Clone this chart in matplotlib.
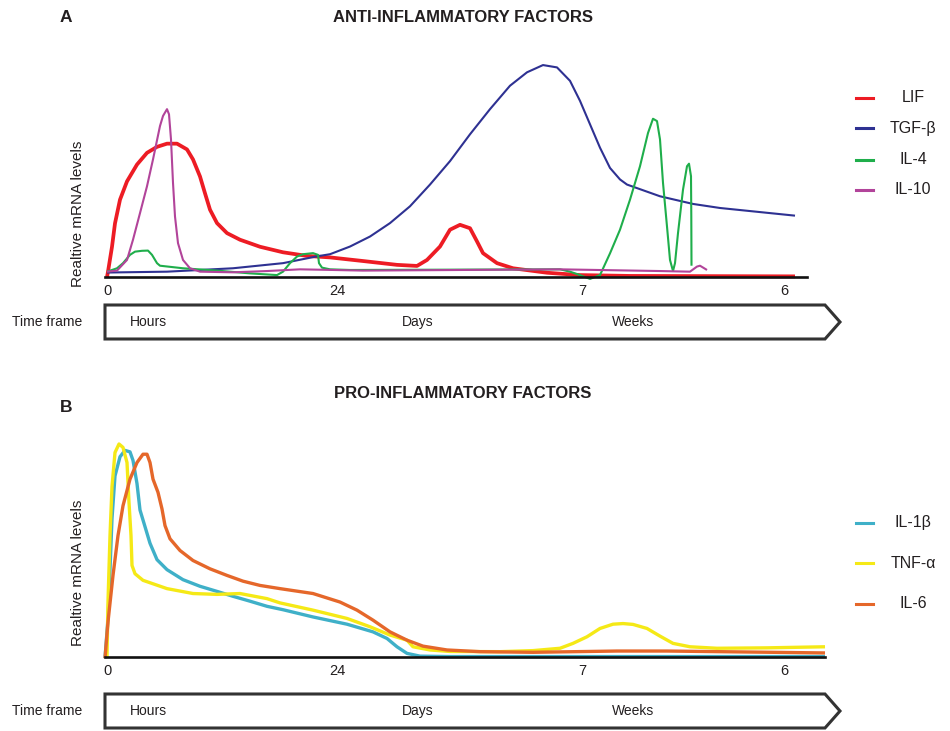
import matplotlib
matplotlib.use('Agg')
from matplotlib import pyplot as plt
from matplotlib.patches import Polygon

plt.rcParams['font.family'] = ['Liberation Sans', 'DejaVu Sans']

# ---- data (x: time position along the axis, y: relative mRNA level) ----
tick_pos = [0, 230, 475, 677]
tick_labels = ['0', '24', '7', '6']

lif_x = [0, 1, 5, 8, 13, 20, 30, 40, 50, 60, 70, 80, 86, 93, 98, 103, 110, 120, 133, 153, 176, 200, 223,
         256, 290, 310, 320, 333, 343, 353, 363, 370, 376, 390, 406, 440, 473, 523, 688]
lif_y = [0.0, 0.025, 0.142, 0.252, 0.363, 0.449, 0.528, 0.583, 0.611, 0.626, 0.626, 0.599, 0.552, 0.472, 0.393,
         0.316, 0.253, 0.206, 0.175, 0.142, 0.116, 0.099, 0.092,
         0.075, 0.057, 0.052, 0.080, 0.143, 0.222, 0.245, 0.229, 0.167, 0.112, 0.065, 0.041, 0.020, 0.009, 0.005, 0.003]

tgf_x = [0, 60, 126, 176, 210, 223, 243, 263, 283, 303, 323, 343, 363, 383, 403, 420, 436, 450, 463, 473, 483,
         493, 503, 513, 520, 553, 586, 613, 688]
tgf_y = [0.021, 0.025, 0.041, 0.065, 0.097, 0.107, 0.143, 0.190, 0.253, 0.332, 0.434, 0.544, 0.670, 0.788, 0.898,
         0.961, 0.995, 0.984, 0.921, 0.827, 0.717, 0.607, 0.512, 0.458, 0.434, 0.379, 0.343, 0.324, 0.288]

il4_x = [0, 10, 16, 23, 28, 35, 41, 45, 50, 53, 76, 110, 143, 170, 176, 183, 190, 196, 206, 211, 212, 215, 223,
         243, 453, 463, 473, 483, 493, 503, 513, 523, 533, 541, 546, 550, 553, 556, 560, 563, 566, 568, 571, 576,
         580, 582, 584, 584.3, 584.5]
il4_y = [0.025, 0.041, 0.065, 0.104, 0.119, 0.123, 0.124, 0.104, 0.065, 0.053, 0.041, 0.030, 0.017, 0.009, 0.025,
         0.065, 0.096, 0.107, 0.112, 0.104, 0.065, 0.044, 0.036,
         0.033, 0.036, 0.025, 0.009, -0.009, 0.009, 0.111, 0.222, 0.363, 0.520, 0.676, 0.743, 0.732, 0.646, 0.442,
         0.237, 0.080, 0.028, 0.065, 0.206, 0.410, 0.520, 0.532, 0.473, 0.284, 0.053]

il10_x = [0, 10, 20, 26, 33, 40, 46, 53, 56, 60, 62, 64, 66, 68, 71, 76, 83, 93, 126, 160, 193, 226, 256, 453,
          553, 583, 590, 593, 600]
il10_y = [0.025, 0.030, 0.080, 0.175, 0.300, 0.426, 0.552, 0.709, 0.756, 0.788, 0.764, 0.646, 0.442, 0.284,
          0.159, 0.080, 0.041, 0.025, 0.022, 0.028, 0.036, 0.033, 0.030, 0.036, 0.028, 0.025, 0.049, 0.053, 0.033]

il1b_x = [-2, 1, 3, 5, 8, 13, 18, 23, 26, 30, 33, 38, 43, 50, 60, 76, 93, 110, 126, 143, 160, 176, 206, 240,
          266, 280, 290, 300, 313, 343, 718]
il1b_y = [-0.005, 0.18, 0.41, 0.65, 0.85, 0.94, 0.97, 0.963, 0.923, 0.814, 0.69, 0.612, 0.534, 0.457, 0.41,
          0.363, 0.332, 0.308, 0.285, 0.262, 0.238, 0.222, 0.188, 0.154, 0.118, 0.087, 0.048, 0.017, 0.004,
          0.002, 0.002]

tnf_x = [0, 1, 3, 5, 8, 12, 16, 20, 22, 24, 25, 28, 36, 60, 86, 110, 133, 160, 173, 206, 240, 263, 283, 300,
         306, 323, 343, 393, 426, 453, 466, 480, 493, 506, 516, 526, 540, 553, 566, 583, 610, 660, 718]
tnf_y = [0.0, 0.26, 0.57, 0.80, 0.96, 1.0, 0.984, 0.913, 0.726, 0.57, 0.43, 0.391, 0.36, 0.321, 0.298, 0.294,
         0.298, 0.274, 0.254, 0.220, 0.181, 0.142, 0.103, 0.079, 0.048, 0.033, 0.026, 0.025, 0.03, 0.041, 0.064,
         0.095, 0.134, 0.154, 0.157, 0.153, 0.134, 0.098, 0.064, 0.048, 0.041, 0.043, 0.048]

il6_x = [-2, 1, 6, 11, 16, 23, 30, 36, 40, 43, 46, 51, 55, 58, 63, 73, 86, 103, 120, 136, 153, 173, 206, 233,
         250, 266, 283, 300, 316, 340, 373, 426, 510, 560, 718]
il6_y = [-0.006, 0.165, 0.383, 0.57, 0.71, 0.835, 0.913, 0.952, 0.952, 0.913, 0.835, 0.773, 0.695, 0.617,
         0.555, 0.5, 0.453, 0.414, 0.383, 0.356, 0.336, 0.321, 0.298, 0.258, 0.22, 0.173, 0.118, 0.079, 0.051,
         0.033, 0.025, 0.022, 0.028, 0.028, 0.019]

anti = [('LIF', lif_x, lif_y, '#ed1c24', 2.7),
        ('TGF-β', tgf_x, tgf_y, '#2e3192', 1.5),
        ('IL-4', il4_x, il4_y, '#1fae4b', 1.5),
        ('IL-10', il10_x, il10_y, '#b2449a', 1.5)]
pro = [('IL-1β', il1b_x, il1b_y, '#3fb0c8', 2.4),
       ('TNF-α', tnf_x, tnf_y, '#f5e916', 2.4),
       ('IL-6', il6_x, il6_y, '#e5672a', 2.4)]

W, H = 950, 731
fig = plt.figure(figsize=(9.5, 7.31), dpi=100)

# overlay in pixel coordinates for decorations
ov = fig.add_axes([0, 0, 1, 1])
ov.set_xlim(0, W)
ov.set_ylim(H, 0)
ov.axis('off')

txt = '#231f20'


def panel(series, base_px, right_px, top_px, xmax, letter, title, title_y, letter_y, ylab_y, legend_y, box_top):
    ax = fig.add_axes([105 / W, (H - base_px) / H, (right_px - 105) / W, (base_px - top_px) / H])
    ax.set_xlim(-2, xmax)
    ax.set_ylim(0, (base_px - top_px) / 213)
    for name, x, y, c, lw in series:
        ax.plot(x, y, color=c, lw=lw, clip_on=False, solid_joinstyle='round', solid_capstyle='butt')
    for s in ['top', 'right', 'left']:
        ax.spines[s].set_visible(False)
    ax.spines['bottom'].set_linewidth(1.9)
    ax.spines['bottom'].set_color('#111111')
    ax.set_yticks([])
    ax.set_xticks(tick_pos)
    ax.set_xticklabels(tick_labels, fontsize=10.5, color=txt)
    ax.tick_params(axis='x', length=0, pad=5)
    ax.patch.set_alpha(0)

    ov.text(66, letter_y, letter, fontsize=12.5, fontweight='bold', ha='center', va='center', color=txt)
    ov.text(463, title_y, title, fontsize=12, fontweight='bold', ha='center', va='center', color=txt)
    ov.text(78, ylab_y, 'Realtive mRNA levels', rotation=90, fontsize=11, ha='center', va='center', color=txt)

    for i, (name, x, y, c, lw) in enumerate(series):
        yy = legend_y[i]
        ov.plot([856, 873], [yy, yy], color=c, lw=2.2)
        ov.text(913, yy, name, fontsize=11.5, ha='center', va='center', color=txt)

    # time frame arrow box
    bt, bb = box_top, box_top + 34
    poly = Polygon([(105, bt), (825, bt), (840, (bt + bb) / 2), (825, bb), (105, bb)],
                   closed=True, fill=False, edgecolor='#333333', lw=2.2, joinstyle='miter')
    ov.add_patch(poly)
    my = (bt + bb) / 2
    ov.text(12, my, 'Time frame', fontsize=10, ha='left', va='center', color=txt)
    ov.text(130, my, 'Hours', fontsize=10, ha='left', va='center', color=txt)
    ov.text(402, my, 'Days', fontsize=10, ha='left', va='center', color=txt)
    ov.text(612, my, 'Weeks', fontsize=10, ha='left', va='center', color=txt)
    return ax


panel(anti, 277, 807, 52, 700, 'A', 'ANTI-INFLAMMATORY FACTORS', 18, 18, 214,
      [98, 128, 160, 190], 305)
panel(pro, 657, 825, 430, 718, 'B', 'PRO-INFLAMMATORY FACTORS', 393, 407, 573,
      [523, 563, 604], 694)

fig.savefig('out.png', dpi=100)
